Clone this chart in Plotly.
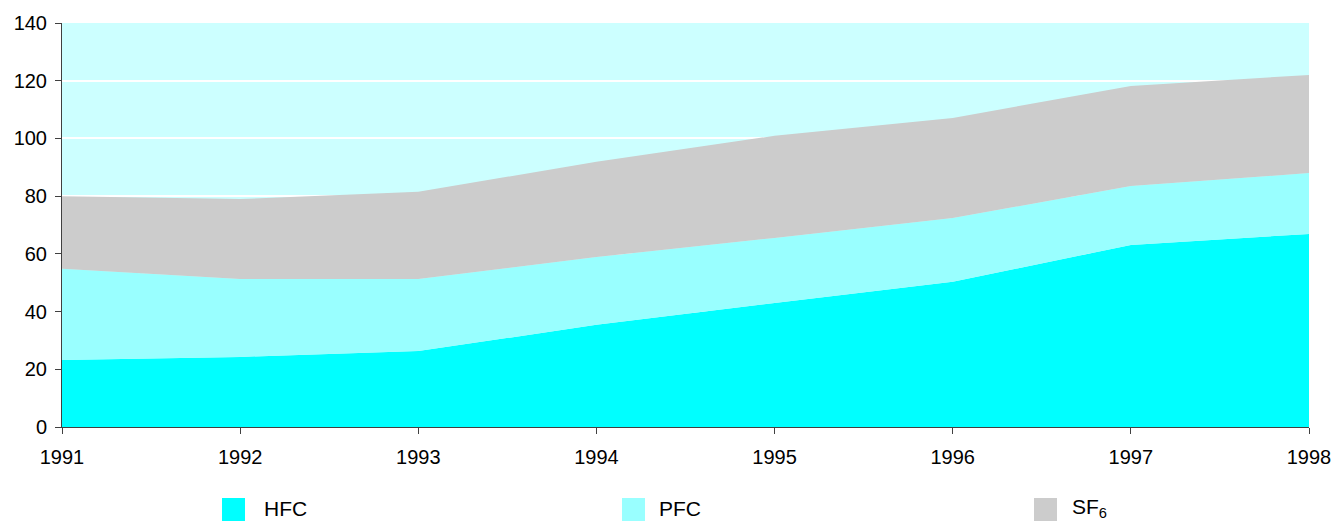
import plotly.graph_objects as go

# Emissions by gas, 1991-1998 (stacked)
years = [1991, 1992, 1993, 1994, 1995, 1996, 1997, 1998]
hfc = [23.2, 24.3, 26.3, 35.4, 43.0, 50.3, 63.1, 66.9]
pfc = [31.6, 27.0, 25.0, 23.5, 22.5, 22.1, 20.4, 21.1]
sf6 = [25.2, 27.7, 30.2, 33.0, 35.4, 34.7, 34.7, 34.0]

series = [
    ("HFC", hfc, "#00FFFF"),
    ("PFC", pfc, "#99FFFF"),
    ("SF<sub>6</sub>", sf6, "#CCCCCC"),
]

FONT = "Liberation Sans, Arial, sans-serif"

fig = go.Figure()
for name, vals, color in series:
    fig.add_trace(go.Scatter(
        x=years, y=vals, name=name, stackgroup="g",
        mode="none", fillcolor=color, line=dict(width=0),
        showlegend=False,
    ))

# Legend drawn as colour swatches with labels below the plot
L, R, T, B = 62, 27, 23, 95
W, H = 1336 - L - R, 522 - T - B

def px_x(p):
    return (p - L) / W

def px_y(p):
    return (522 - B - p) / H

legend_items = [("HFC", "#00FFFF", 222, 262),
                ("PFC", "#99FFFF", 622, 657),
                ("SF<sub>6</sub>", "#CCCCCC", 1034, 1070)]
for label, color, sx, tx in legend_items:
    fig.add_shape(type="rect", xref="paper", yref="paper",
                  x0=px_x(sx), x1=px_x(sx + 23), y0=px_y(498), y1=px_y(521),
                  fillcolor=color, line=dict(width=0))
    fig.add_annotation(xref="paper", yref="paper", x=px_x(tx), y=px_y(508),
                       text=label, showarrow=False, xanchor="left", yanchor="middle",
                       font=dict(family=FONT, size=21, color="#000000"))

fig.update_layout(
    width=1336, height=522,
    margin=dict(l=L, r=R, t=T, b=B, autoexpand=False),
    paper_bgcolor="#FFFFFF",
    plot_bgcolor="#CCFFFF",
    font=dict(family=FONT, size=20, color="#000000"),
    showlegend=False,
)
fig.update_xaxes(
    range=[1991, 1998], tickvals=years, ticktext=[str(y) for y in years],
    showgrid=False, zeroline=False, automargin=False,
    showline=True, linecolor="#404040", linewidth=1,
    ticks="outside", ticklen=6, tickcolor="#404040",
    ticklabelstandoff=6,
)
fig.update_yaxes(
    range=[0, 140], dtick=20, tick0=0,
    showgrid=True, gridcolor="#FFFFFF", gridwidth=2, zeroline=False, automargin=False,
    showline=True, linecolor="#404040", linewidth=1,
    ticks="outside", ticklen=6, tickcolor="#404040",
    ticklabelstandoff=4,
)

fig.write_html("out.html")
